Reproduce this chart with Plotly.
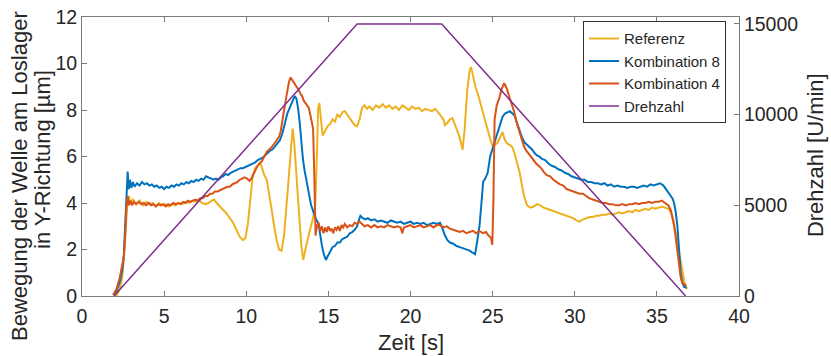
import plotly.graph_objects as go

# Referenz (gelb)
ref_t = [1.9, 2.1, 2.3, 2.45, 2.55, 2.65, 2.75, 2.85, 2.95, 3.1, 3.3, 3.5, 3.7, 3.9, 4.1, 4.3, 4.5, 4.7, 4.9,
         5.1, 5.3, 5.5, 5.7, 5.9, 6.1, 6.3, 6.5, 6.7, 6.9, 7.1, 7.3, 7.5, 7.7, 7.9, 8.05, 8.2, 8.4, 8.6, 8.8,
         9.0, 9.2, 9.4, 9.6, 9.8, 9.95, 10.1, 10.25, 10.4, 10.55, 10.7, 10.85, 11.0, 11.1, 11.25, 11.4, 11.55,
         11.7, 11.85, 12.0, 12.15, 12.3, 12.45, 12.6, 12.75, 12.83, 12.92, 13.05, 13.2, 13.35, 13.47, 13.6,
         13.75, 13.9, 14.05, 14.2, 14.3, 14.38, 14.45, 14.55, 14.65, 14.8, 14.95, 15.1, 15.25, 15.4, 15.55,
         15.7, 15.85, 16.0, 16.15, 16.3, 16.45, 16.6, 16.75, 16.9, 17.05, 17.2, 17.35, 17.5, 17.7, 17.9, 18.1,
         18.3, 18.5, 18.7, 18.9, 19.1, 19.3, 19.5, 19.7, 19.9, 20.1, 20.3, 20.5, 20.7, 20.9, 21.1, 21.3, 21.5,
         21.7, 21.85, 22.0, 22.1, 22.25, 22.4, 22.55, 22.7, 22.85, 23.0, 23.17, 23.3, 23.45, 23.6, 23.68, 23.8,
         23.95, 24.1, 24.25, 24.4, 24.55, 24.7, 24.85, 25.0, 25.15, 25.3, 25.45, 25.6, 25.75, 25.9, 26.05,
         26.2, 26.35, 26.5, 26.65, 26.8, 26.95, 27.1, 27.3, 27.5, 27.7, 27.9, 28.1, 28.3, 28.5, 28.7, 28.9,
         29.1, 29.3, 29.5, 29.7, 29.9, 30.1, 30.3, 30.5, 30.7, 30.9, 31.1, 31.3, 31.5, 31.7, 31.9, 32.1, 32.3,
         32.5, 32.7, 32.9, 33.1, 33.3, 33.5, 33.7, 33.9, 34.1, 34.3, 34.5, 34.7, 34.9, 35.1, 35.3, 35.5, 35.7,
         35.85, 36.0, 36.1, 36.2, 36.3, 36.4, 36.5, 36.6, 36.7, 36.85]
ref_v = [0.1, 0.0, 0.3, 0.8, 1.6, 2.9, 3.9, 4.3, 4.0, 4.15, 3.95, 4.1, 3.9, 4.05, 3.95, 4.0, 3.85, 4.0, 3.9,
         3.95, 3.85, 3.95, 3.9, 4.0, 3.95, 4.05, 4.0, 4.1, 4.05, 4.15, 4.0, 3.95, 4.0, 4.1, 4.15, 4.0, 3.85,
         3.7, 3.55, 3.35, 3.15, 2.85, 2.55, 2.4, 2.5, 3.1, 4.2, 5.2, 5.5, 5.6, 5.75, 5.45, 5.2, 5.0, 4.4, 3.7,
         3.0, 2.4, 2.0, 1.95, 2.6, 3.8, 5.2, 6.6, 7.2, 6.6, 5.4, 3.7, 2.2, 1.55, 2.0, 2.5, 2.9, 3.3, 3.9, 6.0,
         8.1, 8.3, 7.4, 6.9, 7.1, 7.3, 7.4, 7.6, 7.5, 7.8, 7.7, 7.9, 7.95, 7.8, 7.7, 7.5, 7.35, 7.3, 7.6, 8.1,
         8.2, 8.05, 8.15, 8.0, 8.2, 8.1, 8.25, 8.1, 8.2, 8.05, 8.15, 8.0, 8.2, 8.1, 8.0, 8.15, 8.05, 8.1, 7.95,
         8.05, 8.0, 7.95, 8.05, 7.9, 7.75, 7.6, 7.35, 7.45, 7.6, 7.65, 7.4, 7.1, 6.8, 6.3, 7.2, 8.8, 9.7, 9.85,
         9.5, 9.0, 8.7, 8.3, 7.9, 7.5, 7.1, 6.75, 6.45, 6.5, 6.6, 6.8, 7.05, 6.7, 6.55, 6.5, 6.4, 6.1, 5.7,
         5.3, 4.7, 4.2, 3.9, 3.8, 3.85, 3.95, 3.9, 3.8, 3.75, 3.7, 3.65, 3.6, 3.55, 3.5, 3.45, 3.4, 3.35, 3.25,
         3.2, 3.3, 3.35, 3.4, 3.4, 3.45, 3.45, 3.5, 3.5, 3.55, 3.5, 3.55, 3.6, 3.55, 3.6, 3.65, 3.6, 3.7, 3.65,
         3.7, 3.75, 3.7, 3.8, 3.75, 3.8, 3.85, 3.8, 3.75, 3.6, 3.3, 2.9, 2.5, 2.1, 1.7, 1.2, 0.8, 0.5, 0.3]

# Kombination 8 (blau)
k8_t = [1.9, 2.1, 2.3, 2.45, 2.55, 2.65, 2.72, 2.78, 2.85, 2.92, 3.0, 3.1, 3.2, 3.35, 3.5, 3.65, 3.8, 3.95,
        4.1, 4.25, 4.4, 4.55, 4.7, 4.85, 5.0, 5.15, 5.3, 5.45, 5.6, 5.75, 5.9, 6.05, 6.2, 6.35, 6.5, 6.65,
        6.8, 6.95, 7.1, 7.25, 7.4, 7.55, 7.7, 7.85, 8.0, 8.15, 8.3, 8.45, 8.6, 8.75, 8.9, 9.05, 9.2, 9.35,
        9.5, 9.65, 9.8, 9.95, 10.1, 10.25, 10.4, 10.55, 10.7, 10.85, 11.0, 11.15, 11.3, 11.45, 11.6, 11.75,
        11.9, 12.05, 12.2, 12.35, 12.5, 12.65, 12.8, 12.95, 13.05, 13.15, 13.25, 13.35, 13.45, 13.55, 13.65,
        13.75, 13.85, 13.95, 14.1, 14.25, 14.4, 14.5, 14.6, 14.72, 14.85, 14.95, 15.1, 15.25, 15.4, 15.55,
        15.7, 15.85, 16.0, 16.15, 16.3, 16.45, 16.6, 16.75, 16.85, 16.95, 17.1, 17.25, 17.4, 17.6, 17.8,
        18.0, 18.2, 18.4, 18.6, 18.8, 19.0, 19.2, 19.4, 19.6, 19.8, 20.0, 20.2, 20.4, 20.6, 20.8, 21.0, 21.2,
        21.4, 21.6, 21.8, 21.95, 22.1, 22.25, 22.4, 22.6, 22.8, 23.0, 23.2, 23.4, 23.6, 23.8, 23.93, 24.05,
        24.2, 24.32, 24.42, 24.55, 24.7, 24.85, 25.0, 25.15, 25.3, 25.45, 25.6, 25.75, 25.9, 26.05, 26.2,
        26.35, 26.5, 26.65, 26.8, 26.95, 27.1, 27.25, 27.4, 27.55, 27.7, 27.85, 28.0, 28.2, 28.4, 28.6, 28.8,
        29.0, 29.2, 29.4, 29.6, 29.8, 30.0, 30.2, 30.4, 30.6, 30.8, 31.0, 31.2, 31.4, 31.6, 31.8, 32.0, 32.2,
        32.4, 32.6, 32.8, 33.0, 33.2, 33.4, 33.6, 33.8, 34.0, 34.2, 34.4, 34.6, 34.8, 35.0, 35.2, 35.4, 35.6,
        35.8, 35.95, 36.05, 36.15, 36.25, 36.32, 36.38, 36.45, 36.55, 36.65, 36.8]
k8_v = [0.05, 0.2, 0.6, 1.1, 1.8, 3.5, 4.8, 5.35, 4.6, 5.0, 4.65, 4.9, 4.7, 4.85, 4.75, 4.9, 4.8, 4.85,
        4.75, 4.8, 4.7, 4.75, 4.65, 4.7, 4.6, 4.7, 4.65, 4.75, 4.7, 4.8, 4.75, 4.85, 4.8, 4.9, 4.85, 4.95,
        4.9, 5.0, 4.95, 5.05, 5.0, 5.15, 5.1, 5.05, 5.0, 5.05, 5.0, 5.1, 5.15, 5.25, 5.2, 5.3, 5.35, 5.4,
        5.45, 5.5, 5.5, 5.55, 5.6, 5.65, 5.7, 5.75, 5.85, 5.9, 5.95, 6.05, 6.15, 6.25, 6.3, 6.45, 6.55, 6.7,
        7.0, 7.45, 7.85, 8.1, 8.35, 8.6, 8.5, 8.1, 7.5, 6.6, 5.9, 5.4, 5.0, 4.6, 4.25, 3.9, 3.6, 3.3, 3.1,
        2.6, 2.2, 1.8, 1.55, 1.7, 1.9, 2.1, 2.15, 2.3, 2.3, 2.45, 2.5, 2.55, 2.7, 2.75, 2.85, 3.0, 3.25,
        3.45, 3.35, 3.3, 3.35, 3.25, 3.3, 3.2, 3.25, 3.2, 3.15, 3.25, 3.2, 3.15, 3.2, 3.1, 3.15, 3.2, 3.1,
        3.15, 3.1, 3.15, 3.05, 3.1, 3.15, 3.1, 3.15, 2.9, 2.6, 2.4, 2.3, 2.25, 2.15, 2.1, 2.05, 2.0, 1.95,
        1.85, 1.8, 2.3, 3.0, 4.0, 4.9, 5.05, 5.3, 6.0, 6.35, 6.6, 6.95, 7.3, 7.7, 7.85, 7.9, 7.95, 7.85,
        7.75, 7.4, 7.1, 6.8, 6.6, 6.5, 6.4, 6.3, 6.15, 6.05, 6.0, 5.9, 5.85, 5.7, 5.6, 5.55, 5.45, 5.4, 5.3,
        5.25, 5.15, 5.1, 5.05, 5.0, 5.0, 4.9, 4.9, 4.85, 4.85, 4.8, 4.85, 4.75, 4.8, 4.7, 4.75, 4.7, 4.7,
        4.65, 4.7, 4.7, 4.65, 4.7, 4.75, 4.7, 4.8, 4.75, 4.8, 4.85, 4.75, 4.55, 4.4, 4.2, 4.0, 3.6, 3.0,
        2.4, 1.6, 1.0, 0.6, 0.4, 0.35]

# Kombination 4 (orange)
k4_t = [1.9, 2.1, 2.3, 2.45, 2.55, 2.63, 2.7, 2.78, 2.85, 2.95, 3.05, 3.15, 3.3, 3.45, 3.6, 3.75, 3.9, 4.05,
        4.2, 4.35, 4.5, 4.65, 4.8, 4.95, 5.1, 5.25, 5.4, 5.55, 5.7, 5.85, 6.0, 6.15, 6.3, 6.45, 6.6, 6.75,
        6.9, 7.05, 7.2, 7.35, 7.5, 7.65, 7.8, 7.95, 8.1, 8.25, 8.4, 8.55, 8.7, 8.85, 9.0, 9.15, 9.3, 9.45,
        9.6, 9.75, 9.9, 10.05, 10.2, 10.35, 10.5, 10.65, 10.8, 10.95, 11.1, 11.25, 11.4, 11.55, 11.7, 11.85,
        12.0, 12.1, 12.2, 12.3, 12.4, 12.5, 12.6, 12.7, 12.8, 12.9, 13.0, 13.1, 13.2, 13.3, 13.4, 13.5, 13.6,
        13.7, 13.8, 13.9, 14.0, 14.07, 14.15, 14.22, 14.3, 14.4, 14.5, 14.6, 14.7, 14.8, 14.9, 15.0, 15.1,
        15.2, 15.3, 15.4, 15.5, 15.6, 15.7, 15.8, 15.9, 16.0, 16.15, 16.3, 16.45, 16.6, 16.75, 16.9, 17.05,
        17.2, 17.4, 17.6, 17.8, 18.0, 18.2, 18.4, 18.6, 18.8, 19.0, 19.2, 19.4, 19.5, 19.6, 19.8, 20.0, 20.2,
        20.4, 20.6, 20.8, 21.0, 21.2, 21.4, 21.6, 21.8, 22.0, 22.2, 22.4, 22.6, 22.8, 23.0, 23.2, 23.4, 23.6,
        23.8, 24.0, 24.2, 24.4, 24.6, 24.75, 24.9, 24.98, 25.05, 25.12, 25.25, 25.4, 25.55, 25.7, 25.85,
        26.0, 26.15, 26.3, 26.45, 26.6, 26.75, 26.9, 27.05, 27.2, 27.35, 27.5, 27.65, 27.8, 27.95, 28.1,
        28.3, 28.5, 28.7, 28.9, 29.1, 29.3, 29.5, 29.7, 29.9, 30.1, 30.3, 30.5, 30.7, 30.9, 31.1, 31.3, 31.5,
        31.7, 31.9, 32.1, 32.3, 32.5, 32.7, 32.9, 33.1, 33.3, 33.5, 33.7, 33.9, 34.1, 34.3, 34.5, 34.7, 34.9,
        35.1, 35.3, 35.5, 35.7, 35.85, 35.95, 36.05, 36.15, 36.25, 36.35, 36.45, 36.55, 36.7, 36.8]
k4_v = [0.05, 0.3, 0.8, 1.3, 1.7, 2.6, 3.8, 4.3, 3.9, 4.1, 3.9, 4.05, 3.95, 4.05, 3.95, 4.0, 3.9, 4.0,
        3.9, 3.95, 3.85, 3.95, 3.9, 3.95, 3.85, 3.95, 3.9, 4.0, 3.95, 4.0, 3.95, 4.05, 4.0, 4.1, 4.05, 4.1,
        4.15, 4.1, 4.2, 4.2, 4.3, 4.3, 4.4, 4.4, 4.5, 4.5, 4.55, 4.6, 4.65, 4.7, 4.7, 4.8, 4.85, 4.9, 5.0,
        5.05, 5.1, 5.05, 4.95, 5.1, 5.35, 5.55, 5.7, 5.8, 6.0, 6.2, 6.3, 6.4, 6.55, 6.7, 6.85, 7.1, 7.6, 8.0,
        8.4, 8.8, 9.2, 9.4, 9.3, 9.2, 9.1, 8.95, 8.85, 8.7, 8.6, 8.4, 8.3, 8.2, 8.1, 7.8, 7.5, 7.2, 5.0, 2.6,
        3.0, 3.15, 2.8, 3.0, 2.7, 2.95, 2.75, 3.0, 2.8, 2.9, 2.7, 2.95, 2.85, 3.0, 2.8, 3.05, 2.95, 3.1,
        2.95, 3.05, 3.0, 3.15, 3.1, 3.2, 3.1, 3.0, 3.05, 2.95, 3.05, 2.95, 3.0, 2.95, 3.05, 3.0, 2.95, 3.0,
        2.95, 2.7, 2.95, 3.0, 3.05, 2.95, 3.0, 3.05, 2.95, 3.0, 3.05, 2.95, 3.05, 3.05, 2.95, 3.0, 2.9, 2.85,
        2.8, 2.75, 2.8, 2.7, 2.75, 2.8, 2.7, 2.8, 2.7, 2.75, 2.6, 2.5, 2.2, 4.2, 7.6, 8.2, 8.5, 8.9, 9.15,
        8.95, 8.6, 8.3, 7.95, 7.5, 7.15, 6.8, 6.45, 6.25, 6.1, 6.0, 5.85, 5.7, 5.6, 5.5, 5.35, 5.2, 5.15,
        5.0, 4.9, 4.8, 4.75, 4.6, 4.55, 4.5, 4.45, 4.4, 4.4, 4.3, 4.2, 4.15, 4.1, 4.05, 4.0, 4.0, 3.95, 3.95,
        3.9, 3.9, 3.95, 3.9, 3.95, 3.95, 4.0, 3.95, 4.0, 4.0, 4.05, 4.0, 4.05, 4.05, 4.1, 4.0, 3.9, 3.7, 3.4,
        3.0, 2.5, 1.9, 1.3, 0.8, 0.55, 0.5, 0.45]

# Drehzahl
n_t = [1.95, 16.75, 21.9, 36.75]
n_v = [0, 15000, 15000, 0]

FONT = "Liberation Sans, Arial, sans-serif"
AX = "#7a7a7a"
TXT = "#262626"

fig = go.Figure()
fig.add_trace(go.Scatter(x=ref_t, y=ref_v, mode="lines", name="Referenz",
                         line=dict(color="#EDB120", width=2)))
fig.add_trace(go.Scatter(x=k8_t, y=k8_v, mode="lines", name="Kombination 8",
                         line=dict(color="#0072BD", width=2)))
fig.add_trace(go.Scatter(x=k4_t, y=k4_v, mode="lines", name="Kombination 4",
                         line=dict(color="#D95319", width=2)))
fig.add_trace(go.Scatter(x=n_t, y=n_v, mode="lines", name="Drehzahl", yaxis="y2",
                         line=dict(color="#7E2F8E", width=1.5)))

fig.update_layout(
    width=831, height=356,
    margin=dict(l=82, r=92, t=17, b=60),
    plot_bgcolor="white", paper_bgcolor="white",
    font=dict(family=FONT, size=19.5, color=TXT),
    showlegend=True,
    legend=dict(x=0.7626, y=0.985, xanchor="left", yanchor="top",
                bgcolor="white", bordercolor="#333", borderwidth=1,
                font=dict(size=15), itemwidth=30, tracegroupgap=0),
    xaxis=dict(range=[0, 40], dtick=5, ticks="inside", ticklen=5, tickcolor=AX,
               showline=True, linecolor=AX, linewidth=1, mirror="ticks",
               showgrid=False, zeroline=False, automargin=False,
               ticklabeloverflow="allow", ticklabelstandoff=3),
    yaxis=dict(range=[0, 12], dtick=2, ticks="inside", ticklen=5, tickcolor=AX,
               showline=True, linecolor=AX, linewidth=1,
               showgrid=False, zeroline=False, automargin=False,
               ticklabeloverflow="allow"),
    yaxis2=dict(range=[0, 15380], tickvals=[0, 5000, 10000, 15000],
                ticktext=["0", "5000", "10000", "15000"], overlaying="y", side="right",
                ticks="inside", ticklen=5, tickcolor=AX,
                showline=True, linecolor=AX, linewidth=1,
                showgrid=False, zeroline=False, automargin=False,
                ticklabeloverflow="allow"),
)

# axis titles as annotations (paper coords relative to plot area 657x279)
titles = [
    ("Bewegung der Welle am Loslager", -0.0959, 0.430, -90),
    ("in Y-Richtung [µm]", -0.0609, 0.491, -90),
    ("Drehzahl [U/min]", 1.1157, 0.505, -90),
    ("Zeit [s]", 0.5, -0.165, 0),
]
for text, x, y, ang in titles:
    fig.add_annotation(text=text, x=x, y=y, xref="paper", yref="paper",
                       xanchor="center", yanchor="middle", showarrow=False,
                       textangle=ang, font=dict(size=22, color=TXT))

# drop the default page margin so the figure sits at the window's top-left corner
fig.write_html("out.html", config={"displayModeBar": False},
               post_script="document.body.style.margin='0';")
